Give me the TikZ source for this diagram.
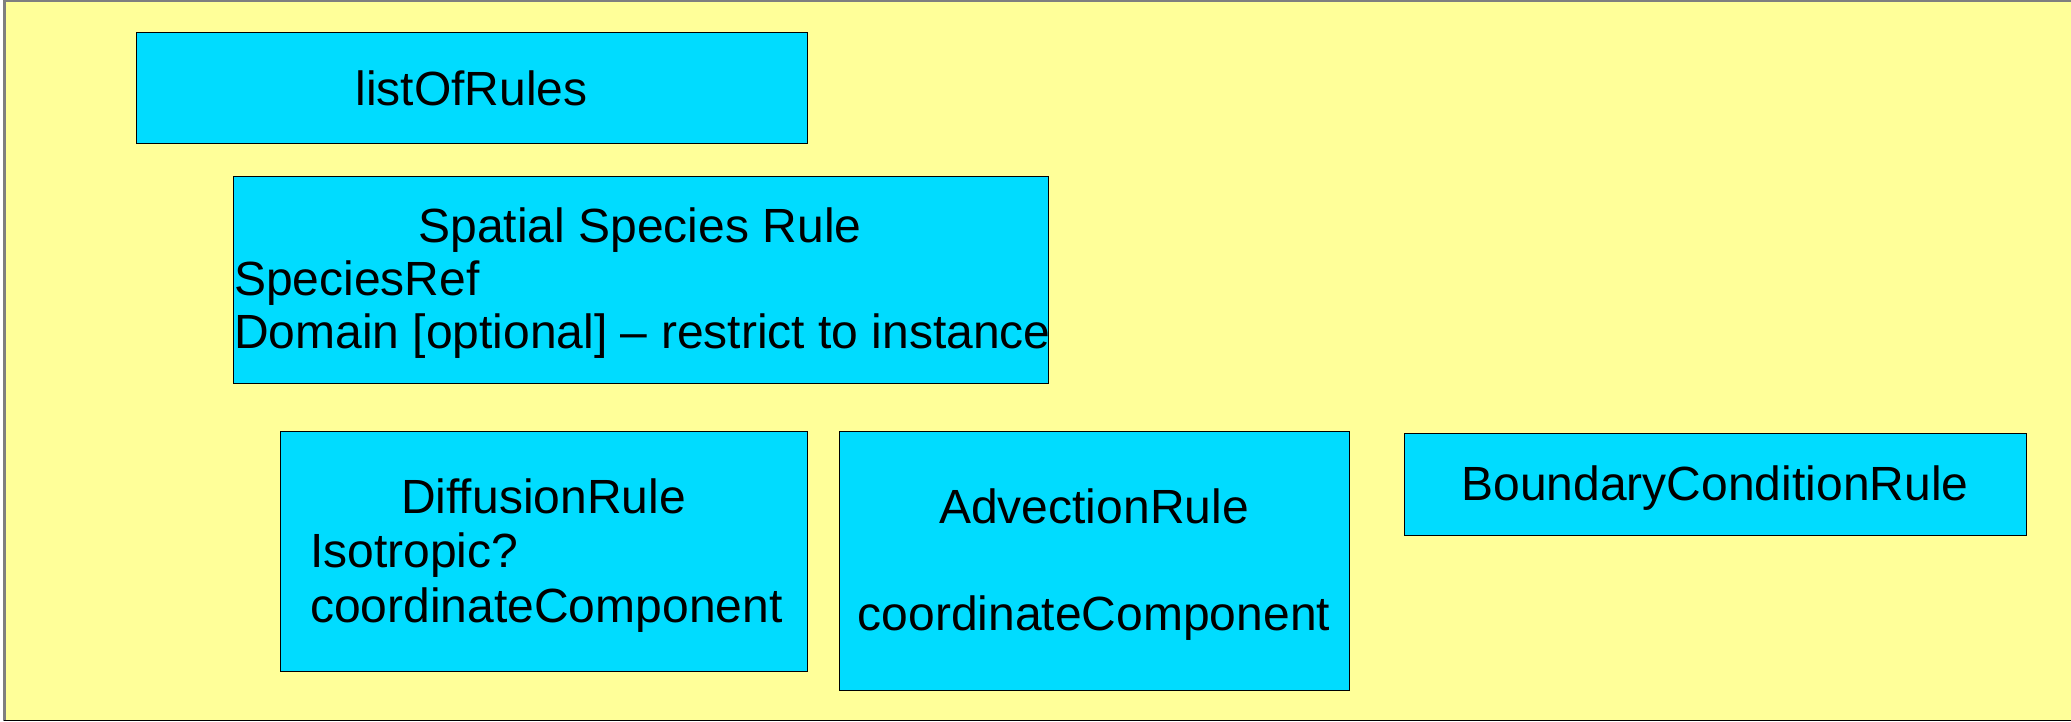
\documentclass[tikz,border=0pt]{standalone}
\usepackage{fontspec}
\setmainfont{Liberation Sans}
\definecolor{paper}{HTML}{FFFF99}
\definecolor{boxcyan}{HTML}{00DCFF}
\definecolor{frameline}{HTML}{7F7F7F}
\definecolor{baseline}{HTML}{A8A878}
\begin{document}
\begin{tikzpicture}[x=1pt,y=-1pt,
  rulebox/.style={draw=black, line width=1.2pt, fill=boxcyan, inner sep=0pt,
                  anchor=north west},
  txt/.style={inner sep=0pt, font=\fontsize{48}{54}\selectfont},
]
\useasboundingbox (0,0) rectangle (2071,721);
% page background and frame
\fill[white] (0,0) rectangle (2071,721);
\fill[paper] (4,0) rectangle (2071,721);
\draw[frameline, line width=3pt] (4.5,0) -- (4.5,721);
\draw[frameline, line width=2pt] (4,1) -- (2071,1);
\draw[baseline, line width=1.5pt] (4,720.25) -- (2071,720.25);

% rule boxes
\node[rulebox, minimum width=671pt, minimum height=111pt] (lor) at (136,32) {};
\node[rulebox, minimum width=815pt, minimum height=207pt] (ssr) at (232.5,176) {};
\node[rulebox, minimum width=527pt, minimum height=240pt] (dif) at (280,431) {};
\node[rulebox, minimum width=510pt, minimum height=259pt] (adv) at (839,431) {};
\node[rulebox, minimum width=622pt, minimum height=102pt] (bcr) at (1404,433) {};

% labels
\node[txt, anchor=base] (lort) at (471.5,105) {listOfRules};

\node[txt, anchor=base] (ssrt) at (640,242) {Spatial Species Rule};
\node[txt, anchor=base west] (ssra) at (234,295) {SpeciesRef};
\node[txt, anchor=base west] (ssrb) at (234,348) {Domain [optional] – restrict to instance};

\node[txt, anchor=base] (dift) at (543.5,513) {DiffusionRule};
\node[txt, anchor=base west] (difa) at (310,567) {Isotropic?};
\node[txt, anchor=base west] (difb) at (310,622) {coordinateComponent};

\node[txt, anchor=base] (advt) at (1094,523) {AdvectionRule};
\node[txt, anchor=base] (adva) at (1094,630) {coordinateComponent};

\node[txt, anchor=base] (bcrt) at (1715,500) {BoundaryConditionRule};
\end{tikzpicture}
\end{document}
